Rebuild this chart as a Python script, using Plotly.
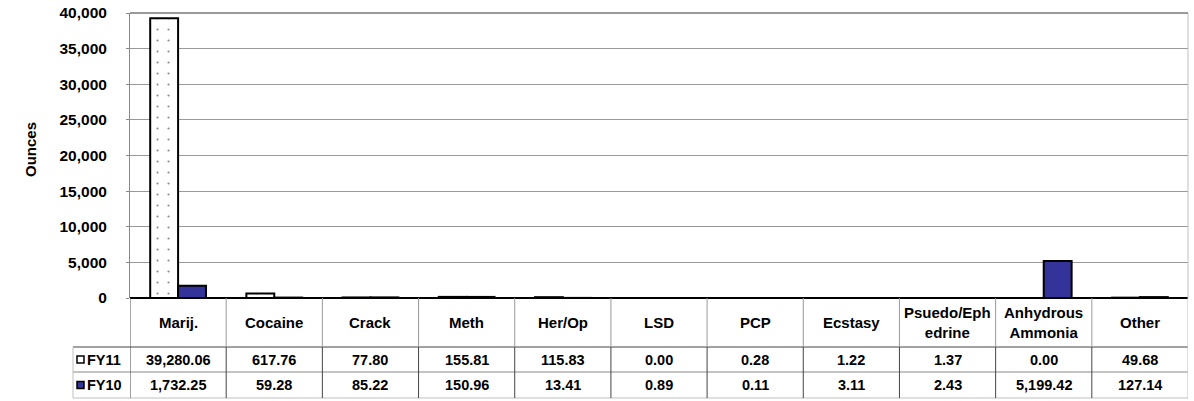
import plotly.graph_objects as go

categories = ["Marij.", "Cocaine", "Crack", "Meth", "Her/Op", "LSD", "PCP",
              "Ecstasy", "Psuedo/Eph<br>edrine", "Anhydrous<br>Ammonia", "Other"]
fy11 = [39280.06, 617.76, 77.80, 155.81, 115.83, 0.00, 0.28, 1.22, 1.37, 0.00, 49.68]
fy10 = [1732.25, 59.28, 85.22, 150.96, 13.41, 0.89, 0.11, 3.11, 2.43, 5199.42, 127.14]
series_names = ["FY11", "FY10"]
y_ticks = [0, 5000, 10000, 15000, 20000, 25000, 30000, 35000, 40000]

W, H = 1194, 401
L, R, T, B = 130, 6, 13, 103
PW = W - L - R
PH = H - T - B

def py(px):  # pixel y -> paper y
    return (T + PH - px) / PH

def px_(x):  # pixel x -> paper x
    return (x - L) / PW

FONT = "Liberation Sans, Arial"
xs = list(range(len(categories)))
fig = go.Figure()
fig.add_trace(go.Bar(x=xs, y=fy11, name="FY11",
                     marker=dict(color="white", line=dict(color="black", width=2),
                                 pattern=dict(shape=".", fgcolor="#111111", bgcolor="white",
                                              size=11, solidity=0.03))))
fig.add_trace(go.Bar(x=xs, y=fy10, name="FY10",
                     marker=dict(color="#333399", line=dict(color="black", width=2))))

shapes = []
annotations = []
font = dict(family=FONT, size=15, color="black")
vfont = dict(family=FONT, size=14.5, color="black")

r_top, r_cat, r_fy11, r_fy10 = 298, 347, 372, 398
shapes.append(dict(type="line", xref="paper", yref="paper", x0=px_(73), x1=px_(1188),
                   y0=py(r_cat), y1=py(r_cat), line=dict(color="#444444", width=1)))
shapes.append(dict(type="line", xref="paper", yref="paper", x0=px_(73), x1=px_(1188),
                   y0=py(r_fy11), y1=py(r_fy11), line=dict(color="#888888", width=1)))
shapes.append(dict(type="line", xref="paper", yref="paper", x0=px_(73), x1=px_(1188),
                   y0=py(r_fy10), y1=py(r_fy10), line=dict(color="#c0c0c0", width=1)))
shapes.append(dict(type="line", xref="paper", yref="paper", x0=px_(73), x1=px_(73),
                   y0=py(r_cat), y1=py(r_fy10), line=dict(color="#c0c0c0", width=1)))
for i in range(len(categories) + 1):
    xv = i - 0.5
    last = i == len(categories)
    shapes.append(dict(type="line", xref="x", yref="paper", x0=xv, x1=xv,
                       y0=py(r_top), y1=py(r_cat),
                       line=dict(color="#c0c0c0" if last else ("#555555" if i == 0 else "#999999"), width=1)))
    shapes.append(dict(type="line", xref="x", yref="paper", x0=xv, x1=xv,
                       y0=py(r_cat), y1=py(r_fy10),
                       line=dict(color="#c0c0c0" if last else "#444444", width=1)))
shapes.append(dict(type="line", xref="paper", yref="paper", x0=1, x1=1,
                   y0=0, y1=1, line=dict(color="#c0c0c0", width=1)))
shapes.append(dict(type="line", xref="paper", yref="paper", x0=0, x1=1,
                   y0=1, y1=1, line=dict(color="#777777", width=1.5)))

# legend keys
rows = [(r_cat, r_fy11, "white"), (r_fy11, r_fy10, "#333399")]
for k, (a, b, fill) in enumerate(rows):
    yc = (a + b) / 2
    shapes.append(dict(type="rect", xref="paper", yref="paper",
                       x0=px_(77), x1=px_(84), y0=py(yc + 3.5), y1=py(yc - 3.5),
                       fillcolor=fill, line=dict(color="black", width=1.5)))
    annotations.append(dict(x=px_(85), y=py(yc), xref="paper", yref="paper",
                            text="<b>" + series_names[k] + "</b>", showarrow=False,
                            xanchor="left", yanchor="middle", font=vfont))

for i, c in enumerate(categories):
    annotations.append(dict(x=i, y=py((r_top + r_cat) / 2), xref="x", yref="paper",
                            text="<b>" + c + "</b>", showarrow=False, font=font,
                            xanchor="center", yanchor="middle"))
    annotations.append(dict(x=i, y=py((r_cat + r_fy11) / 2), xref="x", yref="paper",
                            text="<b>" + f"{fy11[i]:,.2f}" + "</b>", showarrow=False, font=vfont,
                            xanchor="center", yanchor="middle"))
    annotations.append(dict(x=i, y=py((r_fy11 + r_fy10) / 2), xref="x", yref="paper",
                            text="<b>" + f"{fy10[i]:,.2f}" + "</b>", showarrow=False, font=vfont,
                            xanchor="center", yanchor="middle"))

annotations.append(dict(x=px_(30), y=py(150), xref="paper", yref="paper", text="<b>Ounces</b>",
                        textangle=-90, showarrow=False, xanchor="center", yanchor="middle",
                        font=dict(family=FONT, size=15, color="black")))

fig.update_layout(
    width=W, height=H,
    margin=dict(l=L, r=R, t=T, b=B, autoexpand=False),
    paper_bgcolor="white", plot_bgcolor="white",
    barmode="group", bargap=0.42, bargroupgap=0,
    showlegend=False,
    shapes=shapes, annotations=annotations,
    xaxis=dict(type="linear", range=[-0.5, len(categories) - 0.5], showticklabels=False,
               showgrid=False, zeroline=False, showline=False, ticks=""),
    yaxis=dict(range=[0, 40000], tickvals=y_ticks, tickformat=",", showgrid=True,
               gridcolor="#999999", gridwidth=1, zeroline=True, zerolinecolor="black",
               zerolinewidth=1.5, showline=True, linecolor="#888888", linewidth=1,
               ticks="outside", ticklen=3, tickcolor="#888888", ticklabelstandoff=16,
               tickfont=dict(family=FONT, size=15.5, color="black", weight="bold")),
)
fig.write_html("out.html", config={"displayModeBar": False},
               post_script="document.body.style.margin='0';")
